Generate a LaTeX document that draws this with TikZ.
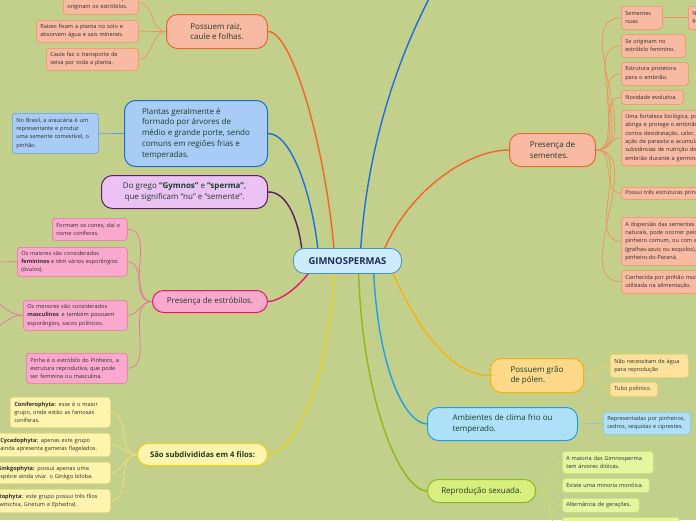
\documentclass[tikz,border=0pt]{standalone}
\usepackage{fontspec}
\setmainfont{Open Sans}
\usetikzlibrary{backgrounds}
\newcommand\mb[1]{\mbox{#1}}
\definecolor{bg}{HTML}{C3D08B}
\definecolor{mtxt}{HTML}{173F27}
\definecolor{ktxt}{HTML}{2E2E2E}
\definecolor{gtxt}{HTML}{1B2D5A}
\definecolor{orng}{HTML}{F2652F}
\definecolor{salF}{HTML}{F9BAA3}
\definecolor{salK}{HTML}{F0905E}
\definecolor{blueL}{HTML}{1C6FD8}
\definecolor{blueF}{HTML}{A8CCF6}
\definecolor{blueK}{HTML}{5C9EE6}
\definecolor{purp}{HTML}{5E1A66}
\definecolor{lavF}{HTML}{EBC2F3}
\definecolor{pinkL}{HTML}{E5186E}
\definecolor{pinkF}{HTML}{FBA8CF}
\definecolor{pinkK}{HTML}{EC6FA3}
\definecolor{yelL}{HTML}{E8D21A}
\definecolor{yelF}{HTML}{FFF4AE}
\definecolor{yelK}{HTML}{F0E07E}
\definecolor{gold}{HTML}{F6B10D}
\definecolor{goldF}{HTML}{FFD98A}
\definecolor{goldK}{HTML}{F5CF6A}
\definecolor{goldKF}{HTML}{FFE29C}
\definecolor{lbL}{HTML}{1DA0E6}
\definecolor{lbF}{HTML}{AEE1F8}
\definecolor{lbK}{HTML}{7EC8EE}
\definecolor{grnL}{HTML}{8DB81A}
\definecolor{grnF}{HTML}{D8EF7E}
\definecolor{grnKF}{HTML}{E4F6A0}
\definecolor{grnK}{HTML}{C5E070}
\definecolor{cenF}{HTML}{CCEBFB}
\definecolor{cenD}{HTML}{4A8CC4}
\begin{document}
\begin{tikzpicture}[x=1pt,y=-1pt,
  main/.style={draw, line width=1pt, rounded corners=11pt, align=left, inner sep=0pt, anchor=north west, text=mtxt, font=\fontsize{8}{10.7}\selectfont},
  kid/.style={draw, line width=0.6pt, rounded corners=3pt, align=left, inner xsep=4pt, inner ysep=0pt, anchor=north west, text=ktxt, font=\fontsize{5.6}{8.3}\selectfont},
  br/.style={line width=1.4pt},
  tw/.style={line width=0.7pt},
  salkid/.style={kid, fill=salF, draw=salK},
  pinkkid/.style={kid, fill=pinkF, draw=pinkK},
  yelkid/.style={kid, fill=yelF, draw=yelK},
  goldkid/.style={kid, fill=goldKF, draw=goldK},
  lbkid/.style={kid, fill=lbF, draw=lbK},
  bluekid/.style={kid, fill=blueF, draw=blueK},
  grnkid/.style={kid, fill=grnKF, draw=grnK},
]
\useasboundingbox (0,0) rectangle (696,520);
\begin{scope}[on background layer]
\fill[bg] (0,0) rectangle (696,520);
\end{scope}

% center
\node[draw=cenD, fill=cenF, line width=0.8pt, rounded corners=11pt, anchor=north west, minimum width=108pt, minimum height=25pt, inner sep=0pt, text=gtxt, font=\fontsize{9.5}{11}\selectfont\bfseries] (G) at (293,248) {GIMNOSPERMAS};

% main topics
\node[main, fill=salF, draw=orng, minimum width=101pt, minimum height=34pt] (R) at (166,14) {Possuem raiz,\\caule e folhas.};
\node[main, fill=blueF, draw=blueL, minimum width=143pt, minimum height=66pt] (P) at (124,100) {Plantas geralmente é\\formado por árvores de\\médio e grande porte, sendo\\comuns em regiões frias e\\temperadas.};
\node[main, fill=lavF, draw=purp, align=center, minimum width=166pt, minimum height=33pt] (D) at (101,175) {Do grego \textbf{“Gymnos”} e \textbf{“sperma”},\\que significam “nu” e “semente”.};
\node[main, fill=pinkF, draw=pinkL, minimum width=115pt, minimum height=22pt] (E) at (152,290) {Presença de estróbilos.};
\node[main, fill=yelF, draw=yelL, minimum width=130pt, minimum height=22pt, font=\fontsize{7.7}{10.7}\selectfont\bfseries] (F) at (137,443) {São subdivididas em 4 filos:};
\node[main, fill=salF, draw=orng, minimum width=86pt, minimum height=33pt] (S) at (509,133) {Presença de\\sementes.};
\node[main, fill=goldF, draw=gold, minimum width=93pt, minimum height=34pt] (Po) at (490,358) {Possuem grão\\de pólen.};
\node[main, fill=lbF, draw=lbL, minimum width=150pt, minimum height=33pt] (A) at (427,407) {Ambientes de clima frio ou\\temperado.};
\node[main, fill=grnF, draw=grnL, minimum width=108pt, minimum height=23pt] (Rs) at (427,479) {Reprodução sexuada.};

% children of R
\node[salkid, text width=67pt, minimum height=23pt] (r0) at (63,-9) {\mb{Folhas modificadas que}\\\mb{originam os estróbilos.}};
\node[salkid, text width=94pt, minimum height=22pt] (r1) at (36,20) {\mb{Raízes fixam a planta no solo e}\\\mb{absorvem água e sais minerais.}};
\node[salkid, text width=84pt, minimum height=22pt] (r2) at (46,48) {\mb{Caule faz o transporte de}\\\mb{seiva por toda a planta.}};

% child of P
\node[bluekid, text width=78pt, minimum height=40pt] (p1) at (12,113) {\mb{No Brasil, a araucária é um}\\\mb{representante e produz}\\\mb{uma semente comestível, o}\\\mb{pinhão.}};

% children of E
\node[pinkkid, text width=67pt, minimum height=22pt] (e1) at (52,218) {\mb{Formam os cones, daí o}\\\mb{nome coníferas.}};
\node[pinkkid, text width=102pt, minimum height=29pt] (e2) at (17,247) {\mb{Os maiores são considerados}\\\mb{\textbf{femininos} e têm vários esporângios}\\\mb{(óvulos).}};
\node[pinkkid, text width=96pt, minimum height=30pt] (e3) at (23,300) {\mb{Os menores são considerados}\\\mb{\textbf{masculinos}\, e também possuem}\\\mb{esporângios, sacos polínicos.}};
\node[pinkkid, text width=93pt, minimum height=30pt] (e4) at (26,353) {\mb{Pinha é o estróbilo do Pinheiro, a}\\\mb{estrutura reprodutiva, que pode}\\\mb{ser feminina ou masculina.}};
\coordinate (x1) at (-20,262);
\coordinate (x2) at (-20,296);
\coordinate (x3) at (-20,333);

% children of F
\node[yelkid, text width=92pt, minimum height=30pt] (f1) at (10,397) {\mb{\textbf{Coniferophyta:} esse é o maior}\\\mb{grupo, onde estão as famosas}\\\mb{coníferas.}};
\node[yelkid, text width=106pt, minimum height=23pt] (f2) at (-4,433) {\mb{\textbf{Cycadophyta:} apenas este grupo}\\\mb{ainda apresenta gametas flagelados.}};
\node[yelkid, text width=109pt, minimum height=21pt] (f3) at (-7,462) {\mb{\textbf{Ginkgophyta:} possui apenas uma}\\\mb{espécie ainda viva: o Ginkgo biloba.}};
\node[yelkid, text width=118pt, minimum height=23pt] (f4) at (-16,489) {\mb{\textbf{Gnetophyta:} este grupo possui três filos}\\\mb{(Welwitschia, Gnetum e Ephedra).}};

% children of S
\node[salkid, text width=33pt, minimum height=23pt] (s1) at (621,6) {\mb{Sementes}\\\mb{nuas}};
\node[salkid, text width=52pt, minimum height=23pt] (s1b) at (688,6) {\mb{Não possuem}\\\mb{frutos.}};
\node[salkid, text width=56pt, minimum height=23pt] (s2) at (621,34) {\mb{Se originam no}\\\mb{estróbilo feminino.}};
\node[salkid, text width=59pt, minimum height=23pt] (s3) at (621,62) {\mb{Estrutura protetora}\\\mb{para o embrião.}};
\node[salkid, text width=54pt, minimum height=14pt] (s4) at (621,90) {\mb{Novidade evolutiva.}};
\node[salkid, text width=102pt, minimum height=55pt] (s5) at (621,110) {\mb{Uma fortaleza biológica, pois}\\\mb{abriga e protege o embrião}\\\mb{contra desidratação, calor,}\\\mb{ação de parasita e acumula}\\\mb{substâncias de nutrição do}\\\mb{embrião durante a germinação.}};
\node[salkid, text width=112pt, minimum height=12pt] (s6) at (621,187) {\mb{Possui três estruturas principais.}};
\node[salkid, text width=122pt, minimum height=48pt] (s7) at (621,217) {\mb{A dispersão das sementes ocorre por meios}\\\mb{naturais, pode ocorrer pelo vento, como no}\\\mb{pinheiro comum, ou com ajuda de animais}\\\mb{(gralhas-azuis ou esquilos), como no}\\\mb{pinheiro-do-Paraná.}};
\node[salkid, text width=102pt, minimum height=23pt] (s8) at (621,270) {\mb{Conhecida por pinhão muito}\\\mb{utilizada na alimentação.}};

% children of Po
\node[goldkid, text width=70pt, minimum height=23pt] (o1) at (610,354) {\mb{Não necessitam de água}\\\mb{para reprodução}};
\node[goldkid, text width=39pt, minimum height=14pt] (o2) at (610,382) {\mb{Tubo polínico.}};

% child of A
\node[lbkid, text width=79pt, minimum height=22pt] (a1) at (603,412) {\mb{Representadas por pinheiros,}\\\mb{cedros, sequoias e ciprestes.}};

% children of Rs
\node[grnkid, text width=83pt, minimum height=22pt] (g1) at (562,451) {\mb{A maioria das Gimnosperma}\\\mb{tem árvores dióicas.}};
\node[grnkid, text width=79pt, minimum height=14pt] (g2) at (562,478) {\mb{Existe uma minoria monóica.}};
\node[grnkid, text width=69pt, minimum height=14pt] (g3) at (562,498) {\mb{Alternância de gerações.}};
\node[grnkid, text width=109pt, minimum height=20pt] (g4) at (562,517) {};

\coordinate (T) at (445,-30);

\begin{scope}[on background layer]
% main branches
\draw[br, orng] ([xshift=-13pt,yshift=-6pt]G.north) .. controls (326,148) and (292,31) .. (R.east);
\draw[br, blueL] ([xshift=-29pt,yshift=-6pt]G.north) .. controls (313,198) and (292,133) .. (P.east);
\draw[br, purp] ([xshift=-45pt,yshift=-8pt]G.north) .. controls (300,222) and (287,191) .. (D.east);
\draw[br, blueL] ([xshift=13pt,yshift=-6pt]G.north) .. controls (368,120) and (415,20) .. (T);
\draw[br, orng] ([xshift=35pt,yshift=-6pt]G.north) .. controls (405,195) and (465,150) .. (S.west);
\draw[br, pinkL] ([xshift=-35pt,yshift=6pt]G.south) .. controls (302,284) and (282,301) .. (E.east);
\draw[br, yelL] ([xshift=-13pt,yshift=6pt]G.south) .. controls (328,400) and (288,454) .. (F.east);
\draw[br, grnL] ([xshift=11pt,yshift=6pt]G.south) .. controls (362,400) and (400,490) .. (Rs.west);
\draw[br, lbL] ([xshift=26pt,yshift=6pt]G.south) .. controls (378,370) and (405,423) .. (A.west);
\draw[br, gold] ([xshift=43pt,yshift=6pt]G.south) .. controls (405,300) and (440,375) .. (Po.west);

% sub branches
\foreach \c in {r0,r1,r2} \draw[tw, salK] (R.west) to[out=180,in=0] (\c.east);
\draw[tw, blueK] (P.west) -- (p1.east);
\foreach \c in {e1,e2,e3,e4} \draw[tw, pinkK] (E.west) to[out=180,in=0] (\c.east);
\draw[tw, pinkK] (e2.west) -- (x1);
\draw[tw, pinkK] (e3.west) to[out=180,in=0] (x2);
\draw[tw, pinkK] (e3.west) to[out=180,in=0] (x3);
\foreach \c in {f1,f2,f3,f4} \draw[tw, yelK] (F.west) to[out=180,in=0] (\c.east);
\foreach \c in {s1,s2,s3,s4,s5,s6,s7,s8} \draw[tw, salK] (S.east) to[out=0,in=180] (\c.west);
\draw[tw, salK] (s1.east) -- (s1b.west);
\foreach \c in {o1,o2} \draw[tw, goldK] (Po.east) to[out=0,in=180] (\c.west);
\draw[tw, lbK] (A.east) -- (a1.west);
\foreach \c in {g1,g2,g3,g4} \draw[tw, grnK] (Rs.east) to[out=0,in=180] (\c.west);
\end{scope}
\end{tikzpicture}
\end{document}
